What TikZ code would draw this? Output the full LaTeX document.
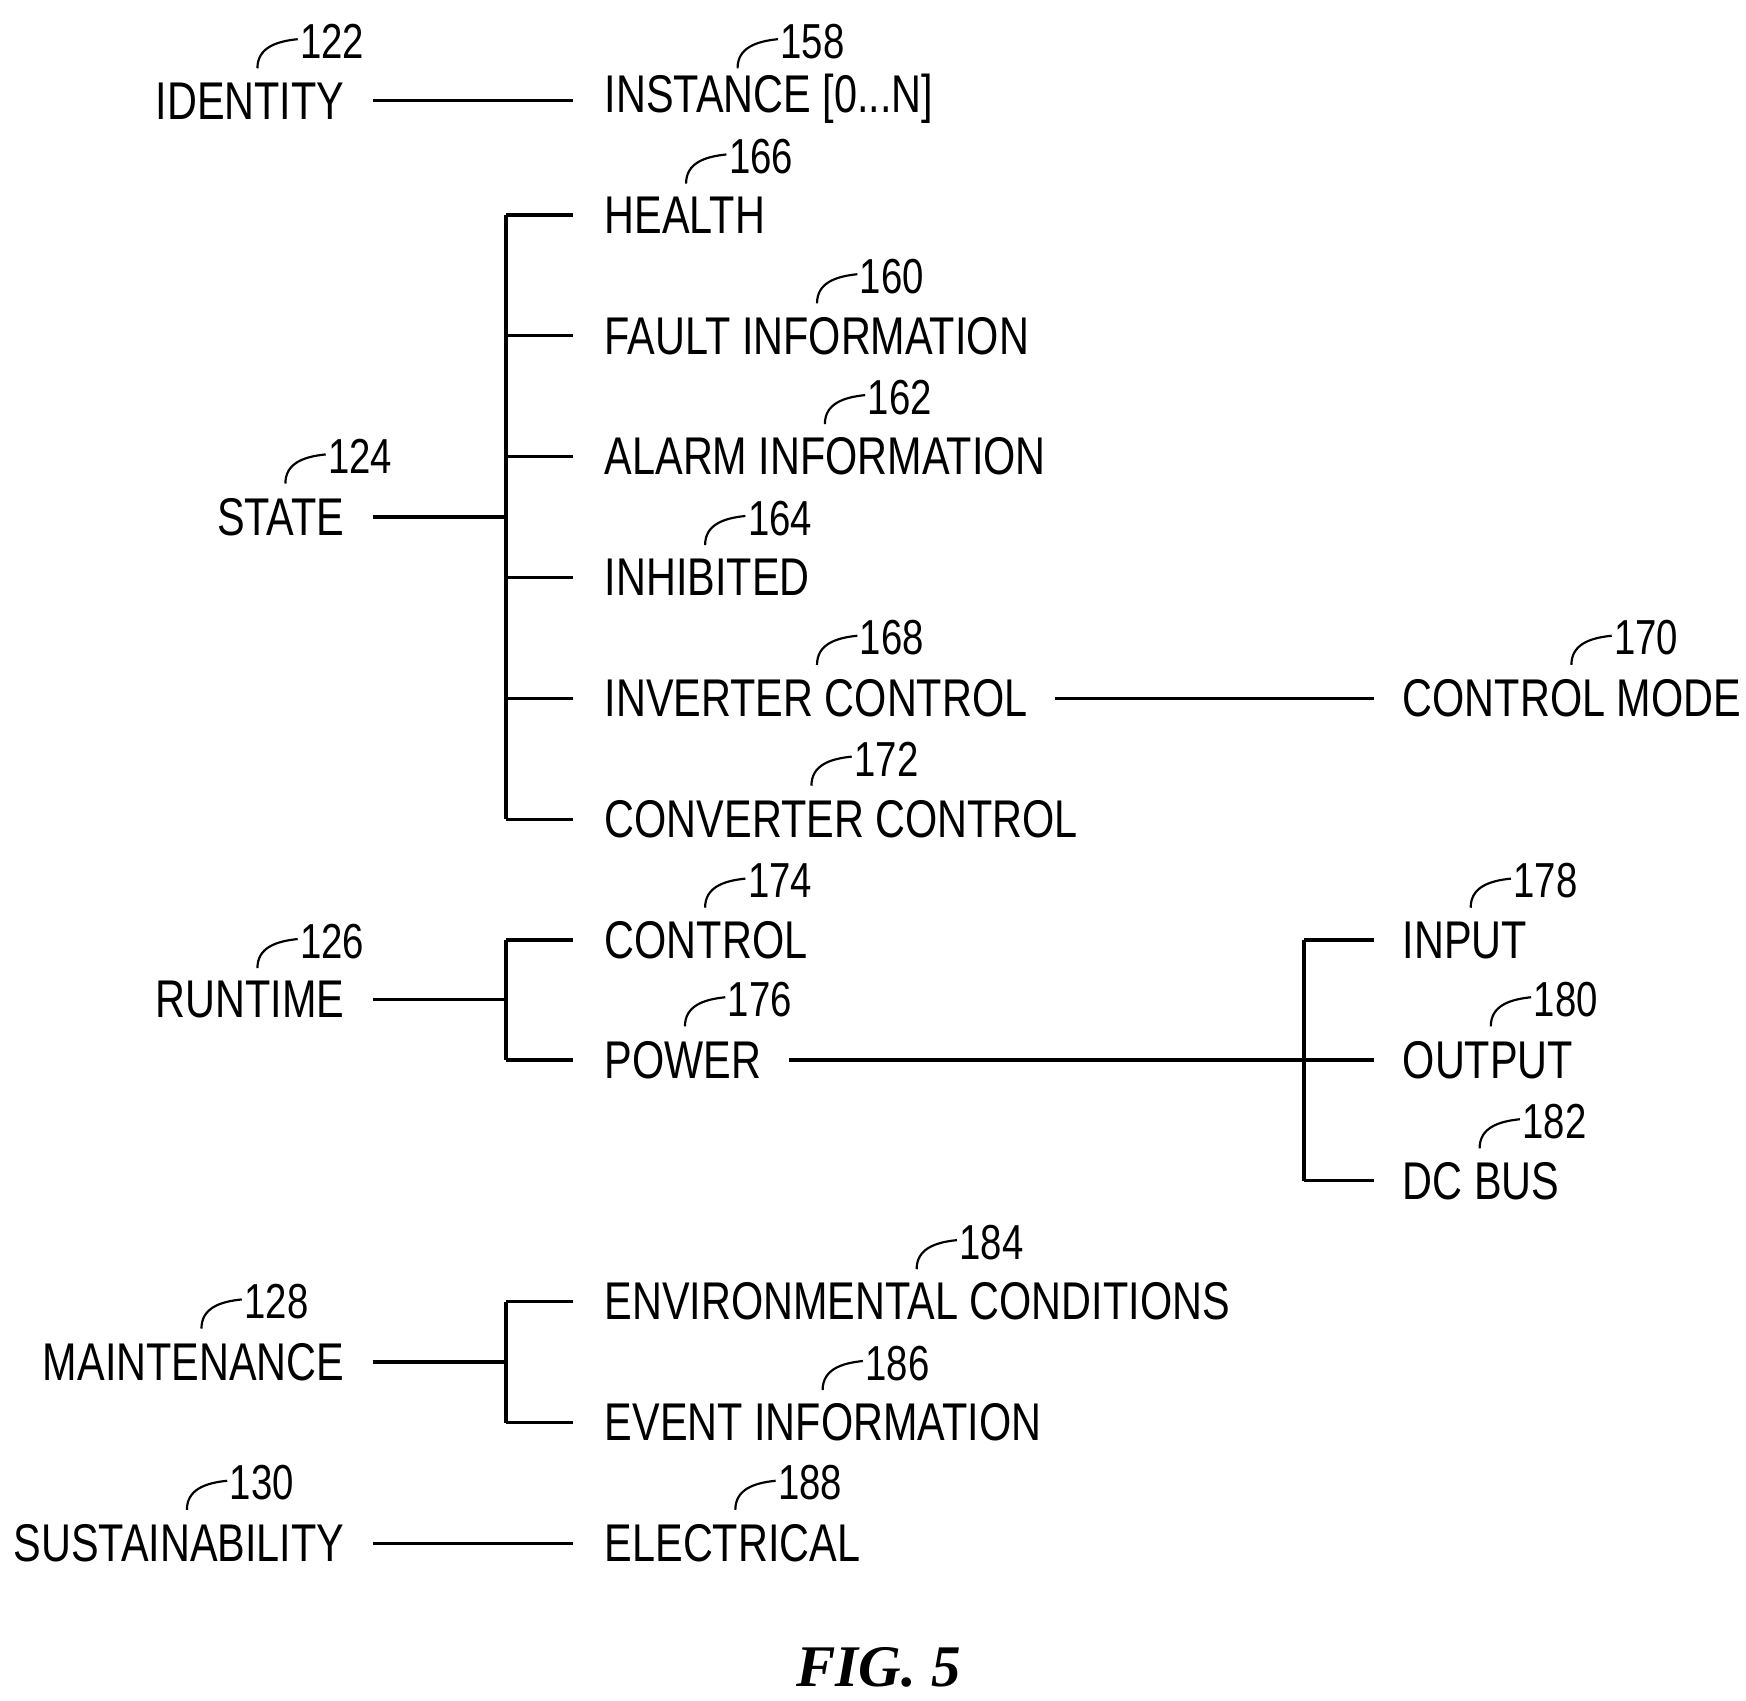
\documentclass[tikz,border=0pt]{standalone}
\usepackage{fontspec}
\usepackage{graphicx}
\setmainfont{Liberation Sans}
\newfontfamily\figfont{Liberation Serif}
\newcommand\nt[1]{\scalebox{0.78}[1]{#1}}
\newcommand\refnum[4]{% name, x, y, text
  \node[num,anchor=west] (#1) at (#2,#3) {\nt{#4}};
  \draw[leader] ($(#1.west)+(-38,24)$) .. controls ($(#1.west)+(-38,6)$) and ($(#1.west)+(-22,0)$) .. ($(#1.west)+(-2,-2)$);}
\usetikzlibrary{calc}
\begin{document}
\begin{tikzpicture}[x=0.02cm,y=-0.02cm,
  lbl/.style={font=\fontsize{27}{30}\selectfont,inner sep=0pt},
  num/.style={font=\fontsize{25}{28}\selectfont,inner sep=0pt},
  ln/.style={line width=1.7pt},
  leader/.style={line width=1.1pt}]
\useasboundingbox (0,0) rectangle (1560,1519);
% left labels
\node[lbl,anchor=east] (id) at (308,90) {\nt{IDENTITY}};
\node[lbl,anchor=east] (st) at (308,462) {\nt{STATE}};
\node[lbl,anchor=east] (rt) at (308,893) {\nt{RUNTIME}};
\node[lbl,anchor=east] (mt) at (308,1217) {\nt{MAINTENANCE}};
\node[lbl,anchor=east] (su) at (308,1379) {\nt{SUSTAINABILITY}};
% middle labels
\foreach \n/\y/\t in {inst/88/{INSTANCE [0...N]},hl/192/HEALTH,fi/300/FAULT INFORMATION,ai/408/ALARM INFORMATION,inh/516/INHIBITED,ic/624/INVERTER CONTROL,cc/732/CONVERTER CONTROL,ctl/840/CONTROL,pw/947/POWER,env/1163/ENVIRONMENTAL CONDITIONS,ev/1271/EVENT INFORMATION,el/1379/ELECTRICAL}
  \node[lbl,anchor=west] (\n) at (540,\y) {\nt{\t}};
\foreach \n/\y/\t in {cm/624/CONTROL MODE,in/840/INPUT,out/947/OUTPUT,dc/1055/DC BUS}
  \node[lbl,anchor=west] (\n) at (1253,\y) {\nt{\t}};
% coordinates
\coordinate (a1) at (333,90); \coordinate (a2) at (512,90);
\coordinate (sb) at (452,462);
\coordinate (rb) at (452,893);
\coordinate (mb) at (452,1217);
\coordinate (pb) at (1165,947);
% connectors
\draw[ln] (333,90) -- (512,90);
\draw[ln] (333,1379) -- (512,1379);
\draw[ln] (333,462) -- (sb);
\draw[ln] (452,192) -- (452,732);
\foreach \y in {192,300,408,516,624,732} \draw[ln] (452,\y) -- (512,\y);
\draw[ln] (333,893) -- (rb);
\draw[ln] (452,840) -- (452,947);
\foreach \y in {840,947} \draw[ln] (452,\y) -- (512,\y);
\draw[ln] (333,1217) -- (mb);
\draw[ln] (452,1163) -- (452,1271);
\foreach \y in {1163,1271} \draw[ln] (452,\y) -- (512,\y);
\draw[ln] (943,624) -- (1228,624);
\draw[ln] (705,947) -- (1228,947);
\draw[ln] (1165,840) -- (1165,1055);
\foreach \y in {840,1055} \draw[ln] (1165,\y) -- (1228,\y);
% reference numbers
\refnum{n122}{268}{37}{122}
\refnum{n158}{697}{37}{158}
\refnum{n166}{651}{140}{166}
\refnum{n160}{768}{247}{160}
\refnum{n162}{775}{355}{162}
\refnum{n124}{293}{408}{124}
\refnum{n164}{668}{463}{164}
\refnum{n168}{768}{570}{168}
\refnum{n170}{1442}{570}{170}
\refnum{n172}{763}{678}{172}
\refnum{n174}{668}{787}{174}
\refnum{n126}{268}{841}{126}
\refnum{n178}{1352}{787}{178}
\refnum{n176}{650}{893}{176}
\refnum{n180}{1370}{893}{180}
\refnum{n182}{1360}{1002}{182}
\refnum{n184}{857}{1110}{184}
\refnum{n186}{773}{1218}{186}
\refnum{n128}{218}{1163}{128}
\refnum{n130}{205}{1325}{130}
\refnum{n188}{695}{1325}{188}
\node[font=\figfont\fontsize{30}{34}\selectfont\bfseries\itshape] (fig) at (785,1490) {FIG. 5};
\end{tikzpicture}
\end{document}
